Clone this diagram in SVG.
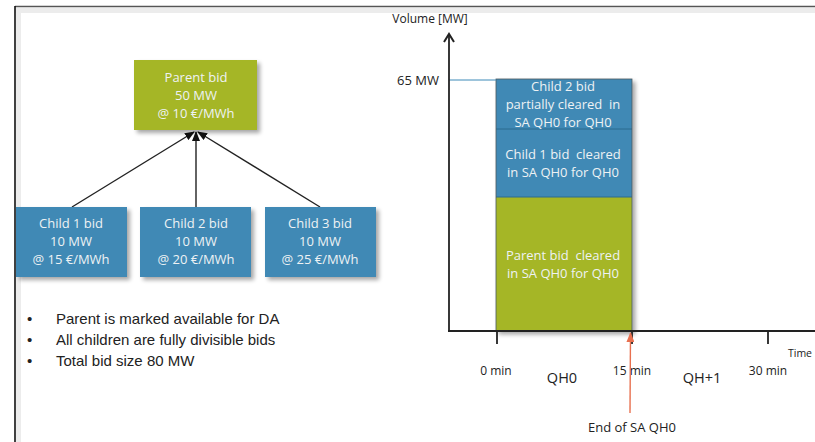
<svg xmlns="http://www.w3.org/2000/svg" width="815" height="442" viewBox="0 0 815 442">
<style>
.box{stroke:none}
.green{fill:#a5b628}
.blue{fill:#4189b5}
.bt{font-family:"Open Sans","DejaVu Sans",sans-serif;font-size:13px;fill:#eef2f4;text-anchor:middle;white-space:pre}
.lab{font-family:"Open Sans","DejaVu Sans",sans-serif;font-size:12px;fill:#222;text-anchor:middle}
.big{font-size:14.5px}
.sm{font-size:10.5px}
.md{font-size:13px}
.bul{font-family:"Liberation Sans","Open Sans",sans-serif;font-size:15px;fill:#222}
.conn{stroke:#222;stroke-width:1.4;fill:none}
.axis{stroke:#222;stroke-width:1.8;fill:none}
</style>
<defs>
<filter id="sh" x="-10%" y="-10%" width="130%" height="130%">
<feGaussianBlur in="SourceAlpha" stdDeviation="2"/>
<feOffset dx="3" dy="3"/>
<feComponentTransfer><feFuncA type="linear" slope="0.35"/></feComponentTransfer>
<feMerge><feMergeNode/><feMergeNode in="SourceGraphic"/></feMerge>
</filter>
<marker id="ah" markerWidth="10" markerHeight="8" refX="9" refY="4" orient="auto" markerUnits="userSpaceOnUse">
<path d="M0,0 L10,4 L0,8 Z" fill="#111"/>
</marker>
<marker id="open" markerWidth="12" markerHeight="12" refX="10" refY="6" orient="auto" markerUnits="userSpaceOnUse">
<path d="M2,1 L10,6 L2,11" fill="none" stroke="#222" stroke-width="2"/>
</marker>
<marker id="red" markerWidth="10" markerHeight="8" refX="9" refY="4" orient="auto" markerUnits="userSpaceOnUse">
<path d="M0,0 L10,4 L0,8 Z" fill="#e8704f"/>
</marker>
</defs>
<rect width="815" height="442" fill="#fff"/>
<g id="frame">
<rect x="15" y="8" width="800" height="5" fill="#ececec"/>
<rect x="16" y="8" width="5" height="434" fill="#ececec"/>
<line x1="15" y1="6.5" x2="815" y2="6.5" stroke="#555" stroke-width="1.6"/>
<line x1="15" y1="6" x2="15" y2="442" stroke="#111" stroke-width="1.6"/>
</g>
<g id="connectors">
<line class="conn" x1="72" y1="207" x2="194" y2="132" marker-end="url(#ah)"/>
<line class="conn" x1="196" y1="207" x2="196" y2="132" marker-end="url(#ah)"/>
<line class="conn" x1="320" y1="207" x2="198" y2="132" marker-end="url(#ah)"/>
</g>
<g id="parent">
<rect class="box green" x="134" y="60" width="123" height="70" filter="url(#sh)"/>
<text class="bt" x="196" y="82">Parent bid</text>
<text class="bt" x="196" y="100">50 MW</text>
<text class="bt" x="196" y="118">@ 10 €/MWh</text>
</g>
<g id="child1">
<rect class="box blue" x="16" y="207" width="111" height="70" filter="url(#sh)"/>
<text class="bt" x="71" y="228">Child 1 bid</text>
<text class="bt" x="71" y="246">10 MW</text>
<text class="bt" x="71" y="264">@ 15 €/MWh</text>
</g>
<g id="child2">
<rect class="box blue" x="140" y="207" width="111" height="70" filter="url(#sh)"/>
<text class="bt" x="196" y="228">Child 2 bid</text>
<text class="bt" x="196" y="246">10 MW</text>
<text class="bt" x="196" y="264">@ 20 €/MWh</text>
</g>
<g id="child3">
<rect class="box blue" x="265" y="207" width="111" height="70" filter="url(#sh)"/>
<text class="bt" x="320" y="228">Child 3 bid</text>
<text class="bt" x="320" y="246">10 MW</text>
<text class="bt" x="320" y="264">@ 25 €/MWh</text>
</g>
<g id="bullets">
<text class="bul" x="27" y="324">•</text>
<text class="bul" x="56" y="324">Parent is marked available for DA</text>
<text class="bul" x="27" y="345">•</text>
<text class="bul" x="56" y="345">All children are fully divisible bids</text>
<text class="bul" x="27" y="366">•</text>
<text class="bul" x="56" y="366">Total bid size 80 MW</text>
</g>
<g id="chart">
<g id="bars" filter="url(#sh)">
<rect class="green" x="496" y="197" width="136" height="134"/>
<rect class="blue" x="496" y="129" width="136" height="68"/>
<rect class="blue" x="496" y="79" width="136" height="50"/>
<line x1="496" y1="129" x2="632" y2="129" stroke="#2d6a8e" stroke-width="1"/>
<line x1="496" y1="197" x2="632" y2="197" stroke="#2d6a8e" stroke-width="1"/>
<rect x="496" y="79" width="136" height="252" fill="none" stroke="#4a5a60" stroke-width="0.8"/>
</g>
<text class="bt" x="563" y="91">Child 2 bid</text>
<text class="bt" x="563" y="109">partially cleared  in</text>
<text class="bt" x="563" y="127">SA QH0 for QH0</text>
<text class="bt" x="563" y="159">Child 1 bid  cleared</text>
<text class="bt" x="563" y="177">in SA QH0 for QH0</text>
<text class="bt" x="563" y="260">Parent bid  cleared</text>
<text class="bt" x="563" y="278">in SA QH0 for QH0</text>
<line x1="449" y1="80" x2="496" y2="80" stroke="#3d8ab8" stroke-width="1"/>
<line class="axis" x1="449" y1="331" x2="449" y2="34" marker-end="url(#open)"/>
<line class="axis" x1="448" y1="331" x2="815" y2="331"/>
<line class="axis" x1="497" y1="331" x2="497" y2="344"/>
<line class="axis" x1="632" y1="331" x2="632" y2="344"/>
<line class="axis" x1="768" y1="331" x2="768" y2="344"/>
<text class="lab" x="430" y="23">Volume [MW]</text>
<text class="lab md" x="418" y="85">65 MW</text>
<text class="lab" x="496" y="375">0 min</text>
<text class="lab big" x="562" y="383">QH0</text>
<text class="lab" x="632" y="375">15 min</text>
<text class="lab big" x="702" y="383">QH+1</text>
<text class="lab" x="768" y="375">30 min</text>
<text class="lab sm" x="800" y="357">Time</text>
<line x1="630" y1="413" x2="630.5" y2="333" stroke="#e8704f" stroke-width="1.4" marker-end="url(#red)"/>
<text class="lab md" x="632" y="432">End of SA QH0</text>
</g>
</svg>
